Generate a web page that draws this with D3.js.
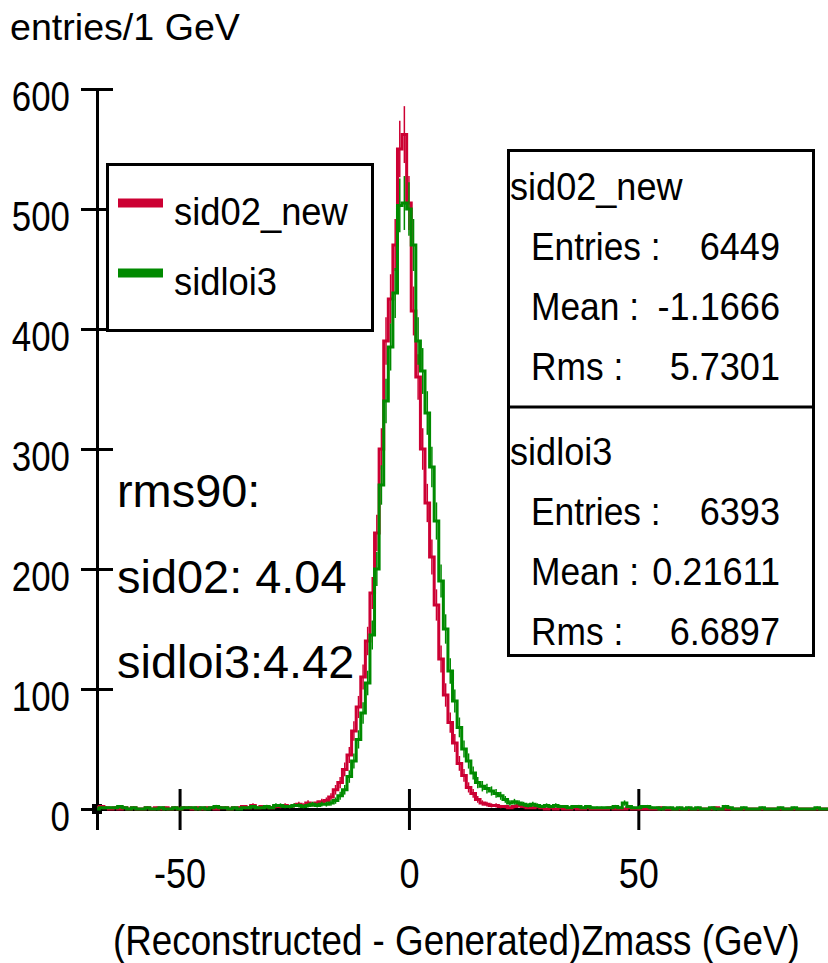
<!DOCTYPE html>
<html>
<head>
<meta charset="utf-8">
<script src="https://cdn.jsdelivr.net/npm/d3@7.9.0/dist/d3.min.js"></script>
<style>
  html, body { margin: 0; padding: 0; background: #fff; }
  svg text { font-family: "Liberation Sans", Arial, sans-serif; fill: #000; }
</style>
</head>
<body>
<div id="chart"></div>
<script>
// 1 GeV bins centred on whole GeV, first bin starts at -68.5 GeV
const binStart = -68.5;

// sid02_new counts, rows of 10 bins (labels = bin centre)
const sid02Counts = [
  1, 2, 1, 0, 1, 0, 1, 0, 1, 0,            // -68 .. -59
  0, 1, 0, 1, 0, 1, 0, 1, 0, 1,            // -58 .. -49
  1, 0, 1, 0, 1, 1, 0, 1, 1, 0,            // -48 .. -39
  1, 1, 2, 1, 3, 1, 2, 2, 1, 2,            // -38 .. -29
  2, 3, 2, 3, 4, 3, 5, 4, 5, 6,            // -28 .. -19
  7, 10, 16, 22, 33, 45, 65, 85, 110, 140, // -18 .. -9
  180, 230, 300, 390, 425, 470, 550, 562, 505, 415, // -8 .. 1
  360, 300, 255, 210, 170, 125, 95, 72, 55, 38,     // 2 .. 11
  28, 18, 13, 8, 5, 4, 3, 3, 2, 2,         // 12 .. 21
  1, 2, 3, 2, 1, 1, 2, 1, 0, 1,            // 22 .. 31
  0, 1, 0, 0, 1, 0, 0, 1, 0, 0,            // 32 .. 41
  0, 0, 1, 0, 0, 0, 1, 0, 0, 0,            // 42 .. 51
  0, 0, 0, 1, 0, 0, 0, 0, 0, 0,            // 52 .. 61
  0, 0, 0, 0, 0, 1, 0, 0, 0, 0,            // 62 .. 71
  0, 0, 0, 0, 0, 0, 0, 0, 0, 0,            // 72 .. 81
  0, 0, 0, 0, 0, 0, 0, 0, 0, 0             // 82 .. 91
];

// sidloi3 counts
const sidloi3Counts = [
  0, 1, 1, 1, 1, 2, 1, 0, 1, 0,            // -68 .. -59
  0, 1, 0, 0, 1, 0, 0, 1, 0, 1,            // -58 .. -49
  1, 1, 0, 1, 0, 1, 2, 1, 1, 0,            // -48 .. -39
  1, 0, 1, 1, 2, 1, 1, 2, 1, 3,            // -38 .. -29
  3, 2, 2, 3, 3, 2, 3, 4, 3, 4,            // -28 .. -19
  4, 5, 7, 11, 16, 27, 40, 58, 80, 105,    // -18 .. -9
  145, 200, 270, 340, 385, 430, 503, 505, 500, 470, // -8 .. 1
  390, 365, 330, 285, 240, 190, 150, 115, 90, 68,   // 2 .. 11
  50, 40, 30, 22, 19, 17, 15, 13, 11, 8,   // 12 .. 21
  5, 6, 5, 4, 3, 4, 3, 2, 3, 2,            // 22 .. 31
  3, 2, 2, 1, 2, 2, 1, 2, 1, 1,            // 32 .. 41
  1, 1, 1, 2, 1, 5, 2, 1, 1, 2,            // 42 .. 51
  2, 1, 1, 0, 1, 1, 0, 1, 0, 1,            // 52 .. 61
  0, 1, 0, 0, 1, 0, 0, 2, 1, 0,            // 62 .. 71
  0, 1, 0, 0, 0, 1, 0, 0, 0, 1,            // 72 .. 81
  0, 0, 1, 0, 0, 0, 0, 1, 0, 0             // 82 .. 91
];

const seriesNames = ['sid02_new', 'sidloi3'];
const seriesColors = ['#cc0033', '#008a00'];
const entries = ['6449', '6393'];
const means = ['-1.1666', '0.21611'];
const rmsValues = ['5.7301', '6.6897'];
const rms90Lines = ['rms90:', 'sid02: 4.04', 'sidloi3:4.42'];

const yTicks = [0, 100, 200, 300, 400, 500, 600];
const xTicks = [-50, 0, 50];

const width = 828;
const height = 963;

const svg = d3.select('#chart')
  .append('svg')
  .attr('width', width)
  .attr('height', height)
  .attr('viewBox', `0 0 ${width} ${height}`);

// the original font is a narrow one, so squeeze the text horizontally
function place(sel, px, py, sx) {
  sel.attr('x', 0).attr('y', 0).attr('dy', null)
    .attr('transform', `translate(${px},${py}) scale(${sx},1)`);
}
// squeeze/stretch a text to a measured width
function fit(sel, px, py, w) {
  const natural = sel.node().getComputedTextLength();
  place(sel, px, py, w / natural);
}

const x = d3.scaleLinear().domain([-68, 92]).range([97, 831]);
const y = d3.scaleLinear().domain([0, 600]).range([809, 89]);

svg.append('clipPath').attr('id', 'plot-clip')
  .append('rect').attr('x', x(-68)).attr('y', 0).attr('width', width).attr('height', height);

// axes
const yAxis = svg.append('g')
  .attr('transform', `translate(${x(-68)}, 0)`)
  .call(d3.axisLeft(y).tickValues(yTicks).tickSizeOuter(0).tickSize(16));
yAxis.attr('font-family', null).attr('font-size', null);
yAxis.select('.domain').attr('stroke-width', 3);
yAxis.selectAll('.tick line').attr('x1', -16).attr('x2', 16).attr('stroke-width', 3);
yAxis.selectAll('.tick text')
  .attr('font-size', 42)
  .each(function () { place(d3.select(this), -27, 21, 0.83); });

const xAxis = svg.append('g')
  .attr('transform', `translate(0, ${y(0)})`)
  .call(d3.axisBottom(x).tickValues(xTicks).tickFormat(d => String(d)).tickSizeOuter(0).tickSize(21));
xAxis.attr('font-family', null).attr('font-size', null);
xAxis.select('.domain').attr('stroke-width', 3);
xAxis.selectAll('.tick line').attr('y1', -20).attr('y2', 21).attr('stroke-width', 3);
xAxis.selectAll('.tick text')
  .attr('font-size', 42)
  .each(function () { place(d3.select(this), 0, 79, 0.86); });

// small block at the origin
svg.append('rect')
  .attr('x', x(-68) - 5).attr('y', y(0) - 5)
  .attr('width', 10).attr('height', 10)
  .attr('fill', '#000');

// histograms
const line = d3.line().x(d => x(d[0])).y(d => y(d[1])).curve(d3.curveStepAfter);

[sid02Counts, sidloi3Counts].forEach((counts, s) => {
  const pts = [[binStart, 0]];
  counts.forEach((c, i) => pts.push([binStart + i, c]));
  pts.push([binStart + counts.length, counts[counts.length - 1]]);

  const g = svg.append('g').attr('class', 'hist').attr('clip-path', 'url(#plot-clip)');
  g.append('path')
    .attr('d', line(pts))
    .attr('fill', 'none')
    .attr('stroke', seriesColors[s])
    .attr('stroke-width', 3);

  // error bars
  g.selectAll('line')
    .data(counts.map((c, i) => ({ c, i })).filter(d => d.c > 0))
    .enter()
    .append('line')
    .attr('x1', d => x(binStart + d.i + 0.5))
    .attr('x2', d => x(binStart + d.i + 0.5))
    .attr('y1', d => y(d.c - Math.sqrt(d.c)))
    .attr('y2', d => y(d.c + Math.sqrt(d.c)))
    .attr('stroke', seriesColors[s])
    .attr('stroke-width', 1.5);
});

// y title
fit(svg.append('text').attr('font-size', 37).text('entries/1 GeV'), 10, 40, 230);

// x title
fit(svg.append('text').attr('font-size', 42).text('(Reconstructed - Generated)Zmass (GeV)'), 113, 955, 687);

// legend
const legend = svg.append('g').attr('class', 'legend');
legend.append('rect')
  .attr('x', 107.5).attr('y', 164.5)
  .attr('width', 265).attr('height', 166)
  .attr('fill', '#fff')
  .attr('stroke', '#000')
  .attr('stroke-width', 3);
seriesNames.forEach((name, i) => {
  const cy = 203 + i * 70;
  legend.append('line')
    .attr('x1', 118).attr('x2', 163)
    .attr('y1', cy).attr('y2', cy)
    .attr('stroke', seriesColors[i])
    .attr('stroke-width', 9);
  place(legend.append('text').attr('font-size', 38).text(name), 174, 225 + i * 70, 0.957);
});

// stats box
const stats = svg.append('g').attr('class', 'stats');
stats.append('rect')
  .attr('x', 508.5).attr('y', 150.5)
  .attr('width', 305).attr('height', 505)
  .attr('fill', '#fff')
  .attr('stroke', '#000')
  .attr('stroke-width', 3);
stats.append('line')
  .attr('x1', 508).attr('x2', 814)
  .attr('y1', 407).attr('y2', 407)
  .attr('stroke', '#000')
  .attr('stroke-width', 3);
seriesNames.forEach((name, i) => {
  const top = 200 + i * 265;
  place(stats.append('text').attr('font-size', 38).text(name), 510, top, 0.95);
  const rows = [['Entries :', entries[i]], ['Mean :', means[i]], ['Rms :', rmsValues[i]]];
  rows.forEach((r, j) => {
    const ry = top + 60 * (j + 1);
    place(stats.append('text').attr('font-size', 38).text(r[0]), 531, ry, 0.93);
    place(stats.append('text').attr('font-size', 38).attr('text-anchor', 'end').text(r[1]), 780, ry, 0.95);
  });
});

// rms90 annotation
rms90Lines.forEach((t, i) => {
  place(svg.append('text').attr('font-size', 46).text(t), 117, 507 + i * 85.5, 1.02);
});
</script>
</body>
</html>
